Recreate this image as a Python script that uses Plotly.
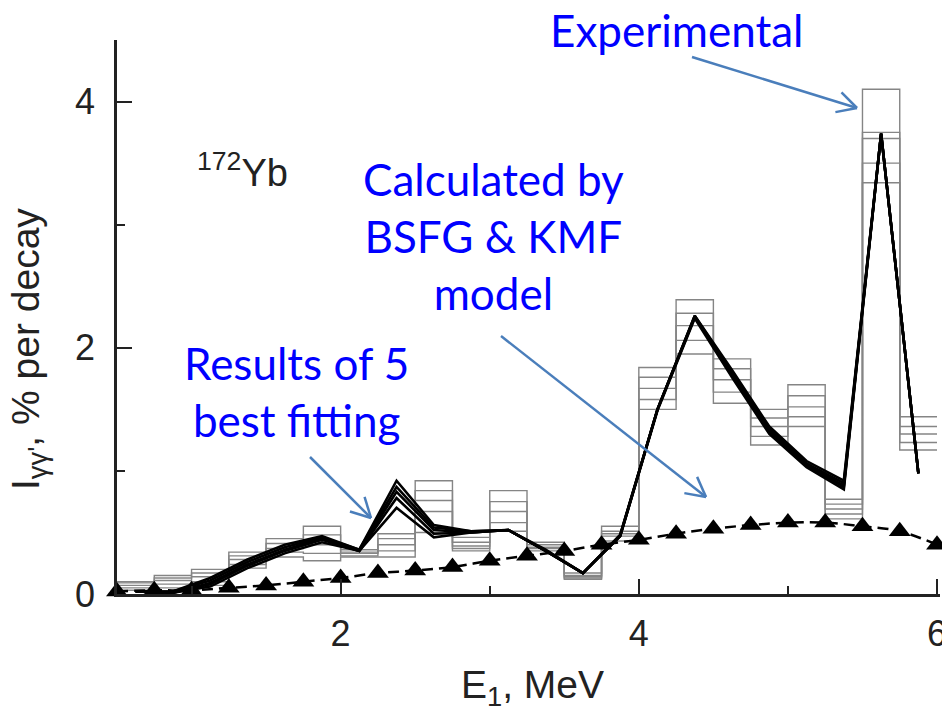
import math
import plotly.graph_objects as go

# ---------------- data ----------------
bin_left = [0.5, 0.75, 1.0, 1.25, 1.5, 1.75, 2.0, 2.25, 2.5, 2.75, 3.0,
            3.25, 3.5, 3.75, 4.0, 4.25, 4.5, 4.75, 5.0, 5.25, 5.5, 5.75]
bin_right_end = 6.0
bin_center = [0.625, 0.875, 1.125, 1.375, 1.625, 1.875, 2.125, 2.375, 2.625, 2.875, 3.125,
              3.375, 3.625, 3.875, 4.125, 4.375, 4.625, 4.875, 5.125, 5.375, 5.625, 5.875]

# experimental histograms (5 variants), % per decay
exp_1 = [0.10, 0.15, 0.20, 0.34, 0.45, 0.55, 0.36, 0.49, 0.92, 0.46, 0.84,
         0.42, 0.17, 0.55, 1.84, 2.39, 1.91, 1.50, 1.70, 0.77, 4.10, 1.44]
exp_2 = [0.09, 0.13, 0.17, 0.31, 0.41, 0.48, 0.34, 0.45, 0.84, 0.42, 0.75,
         0.40, 0.15, 0.51, 1.76, 2.28, 1.83, 1.43, 1.61, 0.73, 3.75, 1.36]
exp_3 = [0.07, 0.11, 0.14, 0.28, 0.37, 0.40, 0.33, 0.40, 0.76, 0.39, 0.67,
         0.38, 0.14, 0.49, 1.67, 2.18, 1.74, 1.36, 1.52, 0.69, 3.70, 1.30]
exp_4 = [0.05, 0.08, 0.10, 0.24, 0.34, 0.33, 0.31, 0.35, 0.67, 0.37, 0.58,
         0.37, 0.13, 0.47, 1.58, 2.06, 1.64, 1.28, 1.44, 0.65, 3.50, 1.23]
exp_5 = [0.03, 0.05, 0.07, 0.21, 0.30, 0.27, 0.30, 0.30, 0.50, 0.35, 0.51,
         0.35, 0.12, 0.43, 1.50, 1.95, 1.55, 1.21, 1.36, 0.61, 3.34, 1.17]

# results of 5 best fittings
fit_1 = [0.02, 0.02, 0.13, 0.28, 0.40, 0.47, 0.36, 0.92, 0.56, 0.51, 0.52,
         0.36, 0.17, 0.48, 1.50, 2.26, 1.82, 1.36, 1.08, 0.92, 3.74, 0.98]
fit_2 = [0.02, 0.02, 0.11, 0.26, 0.38, 0.46, 0.36, 0.87, 0.54, 0.51, 0.52,
         0.35, 0.17, 0.48, 1.50, 2.26, 1.80, 1.34, 1.06, 0.90, 3.74, 0.98]
fit_3 = [0.02, 0.01, 0.09, 0.24, 0.36, 0.45, 0.35, 0.83, 0.52, 0.50, 0.52,
         0.35, 0.17, 0.47, 1.50, 2.25, 1.79, 1.32, 1.05, 0.88, 3.74, 0.98]
fit_4 = [0.02, 0.01, 0.08, 0.23, 0.35, 0.44, 0.35, 0.78, 0.49, 0.50, 0.52,
         0.35, 0.17, 0.47, 1.50, 2.25, 1.78, 1.31, 1.04, 0.87, 3.74, 0.98]
fit_5 = [0.02, 0.01, 0.06, 0.21, 0.33, 0.42, 0.35, 0.70, 0.46, 0.50, 0.52,
         0.35, 0.17, 0.47, 1.49, 2.24, 1.76, 1.30, 1.03, 0.85, 3.74, 0.98]

# BSFG & KMF model calculation
model_x = [0.5, 0.75, 1.0, 1.25, 1.5, 1.75, 2.0, 2.25, 2.5, 2.75, 3.0, 3.25,
           3.5, 3.75, 4.0, 4.25, 4.5, 4.75, 5.0, 5.25, 5.5, 5.75, 6.0]
model_y = [0.02, 0.03, 0.03, 0.05, 0.07, 0.10, 0.13, 0.17, 0.19, 0.22, 0.27, 0.31,
           0.35, 0.40, 0.44, 0.49, 0.53, 0.56, 0.58, 0.58, 0.55, 0.51, 0.40]

x_ticks = [2, 4, 6]
y_ticks = [0, 2, 4]

# ---------------- layout geometry ----------------
W, H = 942, 719
L, R, T, B = 117, 2, 40, 125
PW, PH = W - L - R, H - T - B


def paper(px, py):
    return (px - L) / PW, (H - B - py) / PH


fig = go.Figure()

# experimental step histograms
for ys in [exp_1, exp_2, exp_3, exp_4, exp_5]:
    fig.add_trace(go.Scatter(
        x=bin_left + [bin_right_end], y=ys + [ys[-1]],
        mode="lines", line=dict(color="#858585", width=1.4, shape="hv"),
        hoverinfo="skip", showlegend=False))

# model dashed curve with triangles
fig.add_trace(go.Scatter(
    x=model_x, y=model_y, mode="lines+markers",
    line=dict(color="black", width=2.5, dash="11px,6px", shape="spline"),
    marker=dict(symbol="triangle-up", size=19, color="black"),
    showlegend=False, cliponaxis=False))

# fits
for ys in [fit_1, fit_2, fit_3, fit_4, fit_5]:
    fig.add_trace(go.Scatter(
        x=bin_center, y=ys, mode="lines",
        line=dict(color="black", width=2.6),
        showlegend=False))

axis_font = dict(family="Liberation Sans, Arial, sans-serif", size=36, color="#222")
title_font = dict(family="Liberation Sans, Arial, sans-serif", size=39, color="#222")

fig.update_xaxes(
    range=[0.5, 6.02], tickvals=x_ticks, ticktext=[str(v) for v in x_ticks],
    ticks="inside", ticklen=15, tickwidth=2, tickcolor="#222",
    minor=dict(tickvals=[1, 3, 5], ticks="inside", ticklen=8, tickwidth=2, tickcolor="#222"),
    showline=True, linecolor="#222", linewidth=2.5, showgrid=False, zeroline=False,
    tickfont=axis_font, ticklabelstandoff=6, ticklabeloverflow="allow", automargin=False)
fig.update_yaxes(
    range=[0, 4.5], tickvals=y_ticks, ticktext=[str(v) for v in y_ticks],
    ticks="inside", ticklen=15, tickwidth=2, tickcolor="#222",
    minor=dict(tickvals=[1, 3], ticks="inside", ticklen=8, tickwidth=2, tickcolor="#222"),
    showline=True, linecolor="#222", linewidth=2.5, showgrid=False, zeroline=False,
    tickfont=axis_font, ticklabelstandoff=12, automargin=False)

annotations = []
blue_font = dict(family="Lato, Open Sans, sans-serif", size=44, color="#0000ff")


def add_text(text, px, py, font, angle=0):
    xp, yp = paper(px, py)
    annotations.append(dict(text=text, x=xp, y=yp, xref="paper", yref="paper",
                            xanchor="center", yanchor="middle", showarrow=False,
                            font=font, textangle=angle))


add_text("Experimental", 677, 30, blue_font)
add_text("Calculated by<br>BSFG &amp; KMF<br>model", 493, 236, blue_font)
add_text("Results of 5<br>best fitting", 296, 392, blue_font)
add_text("<sup>172</sup>Yb", 242, 170, dict(family="Liberation Sans, Arial, sans-serif", size=38, color="#222"))
add_text("I<sub>γγ'</sub>, % per decay", 29, 349, title_font, angle=-90)
add_text("E<sub>1</sub>, MeV", 532, 687, title_font)

# arrows (open V heads)
shapes = []
arrow_color = "#4a7ebb"


def add_arrow(x0, y0, x1, y1, head=22, ang=28):
    a = math.atan2(y1 - y0, x1 - x0)
    pts = [((x0, y0), (x1, y1))]
    for s in (1, -1):
        b = a + math.pi + s * math.radians(ang)
        pts.append(((x1, y1), (x1 + head * math.cos(b), y1 + head * math.sin(b))))
    for (ax, ay), (bx, by) in pts:
        p0 = paper(ax, ay)
        p1 = paper(bx, by)
        shapes.append(dict(type="line", xref="paper", yref="paper",
                           x0=p0[0], y0=p0[1], x1=p1[0], y1=p1[1],
                           line=dict(color=arrow_color, width=2.5)))


add_arrow(692, 57, 857, 108)
add_arrow(501, 336, 706, 497)
add_arrow(310, 457, 371, 518)

fig.update_layout(
    width=W, height=H, margin=dict(l=L, r=R, t=T, b=B, pad=0),
    paper_bgcolor="white", plot_bgcolor="white",
    annotations=annotations, shapes=shapes, showlegend=False)

fig.write_html("out.html", config={"displayModeBar": False},
               post_script="document.body.style.margin='0';")
